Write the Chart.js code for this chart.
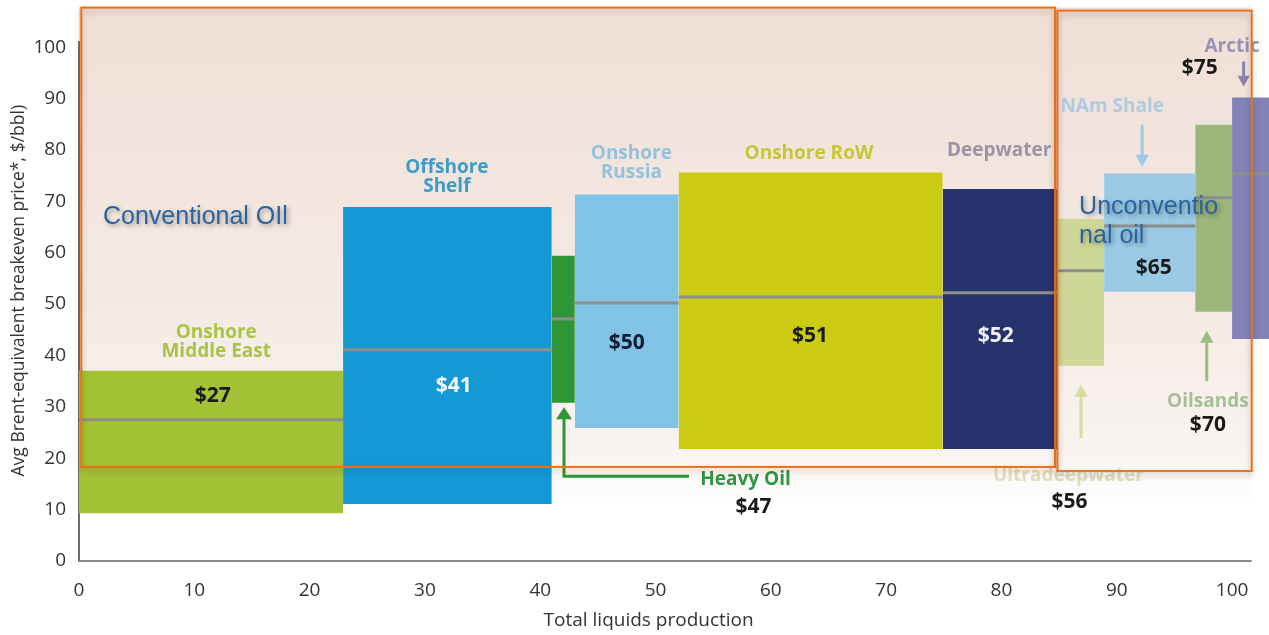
<!DOCTYPE html>
<html>
<head>
<meta charset="utf-8">
<script src="https://cdn.jsdelivr.net/npm/chart.js@4/dist/chart.umd.min.js"></script>
<style>
  html, body { margin: 0; padding: 0; background: #ffffff; overflow: hidden; }
  #wrap { position: relative; width: 1269px; height: 635px; }
</style>
</head>
<body>
<div id="wrap"><canvas id="c"></canvas></div>
<script>
// ---------- DATA ----------
const categories = ["Onshore Middle East", "Offshore Shelf", "Heavy Oil", "Onshore Russia", "Onshore RoW",
                    "Deepwater", "Ultradeepwater", "NAm Shale", "Oilsands", "Arctic"];
// cumulative production edges (x), one more than categories
const xEdges   = [0, 22.9, 41.0, 43.0, 52.0, 74.9, 84.9, 88.9, 96.8, 100.0, 104.5];
const lowCost  = [9.3, 11.1, 30.8, 25.9, 21.8, 21.8, 38.0, 52.4, 48.5, 43.2];
const highCost = [37.0, 68.9, 59.4, 71.3, 75.6, 72.4, 66.6, 75.4, 84.9, 90.2];
const avgCost  = [27.5, 41.1, 47.1, 50.2, 51.4, 52.2, 56.5, 65.2, 70.7, 75.4];
const priceLabels = ["$27", "$41", "$47", "$50", "$51", "$52", "$56", "$65", "$70", "$75"];
const xTicks = [0, 10, 20, 30, 40, 50, 60, 70, 80, 90, 100];
const yTicks = [0, 10, 20, 30, 40, 50, 60, 70, 80, 90, 100];
const xTitle = 'Total liquids production';
const yTitle = 'Avg Brent-equivalent breakeven price*, $/bbl)';

// ---------- STYLE ----------
const barColors = ["#a3c134", "#1499d5", "#2e9634", "#80c3e4", "#cacb12",
                   "#27336d", "#cfd797", "#99c9e4", "#9cb67b", "#8382b7"];
const nameColors = ["#a9c447", "#3d9cc9", "#2f9640", "#94c2da", "#c7c636",
                    "#9b93a6", "#dcdfbb", "#afcbe0", "#a6bd96", "#9a93b4"];
const priceColors = ["#1a1a1a", "#f2f6fa", "#1a1a1a", "#101a30", "#1a1a1a",
                     "#f0f2f8", "#1a1a1a", "#1a1a1a", "#1a1a1a", "#1a1a1a"];
// label positions in data units: [x, y] of first line of name, and of price
const namePos  = [[11.9, 44.4], [31.9, 76.5], [57.8, 15.8], [47.9, 79.3], [63.3, 79.3],
                  [79.8, 79.8], [85.8, 16.6], [89.6, 88.4], [97.9, 31.0], [100.0, 100.1]];
const nameLines = [["Onshore", "Middle East"], ["Offshore", "Shelf"], ["Heavy Oil"], ["Onshore", "Russia"],
                   ["Onshore RoW"], ["Deepwater"], ["Ultradeepwater"], ["NAm Shale"], ["Oilsands"], ["Arctic"]];
const pricePos = [[11.6, 32.1], [32.5, 34.1], [58.5, 10.5], [47.5, 42.5], [63.4, 43.8],
                  [79.5, 43.8], [85.9, 11.5], [93.2, 57.1], [97.9, 26.5], [97.2, 96.0]];

// ---------- DATASETS ----------
const datasets = [];
categories.forEach((name, i) => {
  datasets.push({
    label: name,
    data: [{x: xEdges[i], y: highCost[i]}, {x: xEdges[i + 1], y: highCost[i]}],
    fill: {value: lowCost[i]},
    backgroundColor: barColors[i],
    borderWidth: 0,
    borderColor: 'rgba(0,0,0,0)',
    pointRadius: 0,
    tension: 0,
    order: 2
  });
});
categories.forEach((name, i) => {
  datasets.push({
    label: name + " avg",
    data: [{x: xEdges[i], y: avgCost[i]}, {x: xEdges[i + 1], y: avgCost[i]}],
    fill: false,
    borderColor: "#8e8e8e",
    borderWidth: 3,
    pointRadius: 0,
    tension: 0,
    order: 1
  });
});

// ---------- PLUGIN (background, boxes, labels, arrows) ----------
const deco = {
  id: 'deco',
  beforeDraw(chart) {
    const {ctx, scales: {x, y}} = chart;
    ctx.save();
    ctx.fillStyle = '#ffffff';
    ctx.fillRect(0, 0, chart.width, chart.height);
    const x0 = x.getPixelForValue(0), x1 = x.getPixelForValue(101.7);
    const yTop = y.getPixelForValue(107.7), yBot = y.getPixelForValue(0);
    const g = ctx.createLinearGradient(0, yTop, 0, yBot);
    g.addColorStop(0, '#efdfd6');
    g.addColorStop(0.55, '#f4eae4');
    g.addColorStop(0.8, '#f9f4f1');
    g.addColorStop(0.9, '#ffffff');
    g.addColorStop(1, '#ffffff');
    ctx.fillStyle = g;
    ctx.fillRect(x0, yTop, x1 - x0, yBot - yTop);
    ctx.restore();
  },
  afterDatasetsDraw(chart) {
    const {ctx, scales: {x, y}} = chart;
    const px = v => x.getPixelForValue(v), py = v => y.getPixelForValue(v);
    ctx.save();

    // x axis line (ends at ~101.7)
    ctx.strokeStyle = '#8a8a8a';
    ctx.lineWidth = 2;
    ctx.beginPath();
    ctx.moveTo(px(0), py(0));
    ctx.lineTo(px(101.7), py(0));
    ctx.stroke();

    // axis titles
    ctx.fillStyle = '#333333';
    ctx.textAlign = 'center';
    ctx.textBaseline = 'middle';
    ctx.font = '19px "Open Sans", sans-serif';
    ctx.fillText(xTitle, px(49.4), py(0) + 60);
    ctx.save();
    ctx.translate(19, py(52.6));
    ctx.rotate(-Math.PI / 2);
    ctx.font = '17.5px "Open Sans", sans-serif';
    ctx.fillText(yTitle, 0, 0);
    ctx.restore();

    // arrows
    function arrow(xv, yFrom, yTo, color, lw, head) {
      const X = px(xv), Y1 = py(yFrom), Y2 = py(yTo);
      const dir = Y2 > Y1 ? 1 : -1;
      ctx.strokeStyle = color; ctx.fillStyle = color; ctx.lineWidth = lw;
      ctx.beginPath(); ctx.moveTo(X, Y1); ctx.lineTo(X, Y2 - dir * head * 0.8); ctx.stroke();
      ctx.beginPath();
      ctx.moveTo(X, Y2);
      ctx.lineTo(X - head * 0.55, Y2 - dir * head);
      ctx.lineTo(X + head * 0.55, Y2 - dir * head);
      ctx.closePath(); ctx.fill();
    }
    arrow(92.2, 84.9, 76.7, '#9ccae4', 3, 12);
    arrow(101.0, 97.2, 92.3, '#8a82aa', 3, 11);
    arrow(97.8, 35.0, 44.8, '#9cbc84', 3, 12);
    arrow(86.9, 23.9, 34.3, '#d4dca0', 3, 12);
    // heavy oil elbow arrow
    ctx.strokeStyle = '#2e9634'; ctx.fillStyle = '#2e9634'; ctx.lineWidth = 3;
    ctx.beginPath();
    ctx.moveTo(px(52.9), py(16.5));
    ctx.lineTo(px(42.06), py(16.5));
    ctx.lineTo(px(42.06), py(27.8));
    ctx.stroke();
    ctx.beginPath();
    ctx.moveTo(px(42.06), py(29.9));
    ctx.lineTo(px(42.06) - 8, py(29.9) + 12);
    ctx.lineTo(px(42.06) + 8, py(29.9) + 12);
    ctx.closePath(); ctx.fill();

    // names and prices
    ctx.textAlign = 'center';
    ctx.textBaseline = 'middle';
    categories.forEach((name, i) => {
      ctx.font = 'bold 19px "Open Sans", "DejaVu Sans", sans-serif';
      ctx.fillStyle = nameColors[i];
      nameLines[i].forEach((ln, k) => {
        ctx.fillText(ln, px(namePos[i][0]), py(namePos[i][1]) + k * 19);
      });
      ctx.font = 'bold 21px "Open Sans", "DejaVu Sans", sans-serif';
      ctx.fillStyle = priceColors[i];
      ctx.fillText(priceLabels[i], px(pricePos[i][0]), py(pricePos[i][1]));
    });

    // orange boxes with shadow
    function box(xa, ya, xb, yb) {
      ctx.save();
      ctx.shadowColor = 'rgba(0,0,0,0.28)';
      ctx.shadowBlur = 6;
      ctx.shadowOffsetY = 3;
      ctx.strokeStyle = '#f07114';
      ctx.lineWidth = 2;
      ctx.strokeRect(px(xa), py(ya), px(xb) - px(xa), py(yb) - py(ya));
      ctx.restore();
    }
    box(0.2, 107.7, 84.65, 18.3);
    box(84.85, 107.1, 101.7, 17.5);

    // group text
    ctx.save();
    ctx.font = '25px "Liberation Sans", Arial, sans-serif';
    ctx.fillStyle = '#2a63a1';
    ctx.textAlign = 'left';
    ctx.shadowColor = 'rgba(0,0,0,0.35)';
    ctx.shadowBlur = 4;
    ctx.shadowOffsetX = 2;
    ctx.shadowOffsetY = 2;
    ctx.fillText('Conventional OIl', px(2.08), py(67.0));
    ctx.fillText('Unconventio', px(86.73), py(68.9));
    ctx.fillText('nal oil', px(86.73), py(63.2));
    ctx.restore();

    ctx.restore();
  }
};

// ---------- CHART ----------
new Chart(document.getElementById('c'), {
  type: 'line',
  data: {datasets},
  options: {
    responsive: true,
    maintainAspectRatio: false,
    devicePixelRatio: 1,
    animation: false,
    layout: {padding: {top: 42, left: 0, right: 0, bottom: 0}},
    plugins: {legend: {display: false}, tooltip: {enabled: false}},
    elements: {line: {borderJoinStyle: 'miter'}},
    scales: {
      x: {
        type: 'linear',
        min: 0,
        max: 103.2,
        afterBuildTicks: s => { s.ticks = xTicks.map(v => ({value: v})); },
        afterFit: s => { s.height = 74; },
        grid: {display: false, drawTicks: false},
        border: {display: false},
        ticks: {color: '#333333', font: {size: 19, family: '"Open Sans", sans-serif'}, padding: 18, maxRotation: 0},
        title: {display: false}
      },
      y: {
        type: 'linear',
        min: 0,
        max: 101,
        afterBuildTicks: s => { s.ticks = yTicks.map(v => ({value: v})); },
        afterFit: s => { s.width = 79; },
        grid: {display: false, drawTicks: false},
        border: {display: true, color: '#6e6e6e', width: 2},
        ticks: {color: '#333333', font: {size: 19, family: '"Open Sans", sans-serif'}, padding: 13},
        title: {display: false}
      }
    }
  },
  plugins: [deco]
});
</script>
</body>
</html>
